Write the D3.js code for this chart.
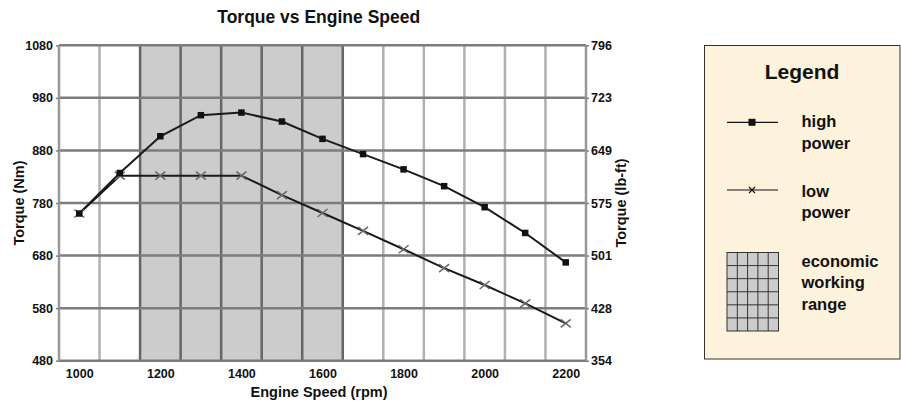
<!DOCTYPE html>
<html>
<head>
<meta charset="utf-8">
<script src="https://cdn.jsdelivr.net/npm/d3@7"></script>
<style>
  html, body { margin: 0; padding: 0; background: #fff; }
  svg { display: block; font-family: "Liberation Sans", Arial, sans-serif; }
</style>
</head>
<body>
<svg id="chart" width="901" height="402"></svg>
<script>
// ---- data ----
const rpm = [1000, 1100, 1200, 1300, 1400, 1500, 1600, 1700, 1800, 1900, 2000, 2100, 2200];
const highPower = [760, 837, 907, 947, 952, 935, 902, 873, 844, 812, 772, 723, 667];
const lowPower = [760, 832, 832, 832, 832, 795, 761, 727, 692, 656, 624, 589, 551];
const xTicks = [1000, 1200, 1400, 1600, 1800, 2000, 2200];
const yTicksNm = [480, 580, 680, 780, 880, 980, 1080];
const yTicksLbft = ["354", "428", "501", "575", "649", "723", "796"];
const xGrid = [1050, 1150, 1250, 1350, 1450, 1550, 1650, 1750, 1850, 1950, 2050, 2150];
const economicRange = [1150, 1650];
const legendItems = ["high power", "low power", "economic working range"];

const svg = d3.select("#chart");
const x = d3.scaleLinear().domain([950, 2250]).range([59, 586]);
const y = d3.scaleLinear().domain([480, 1080]).range([360.7, 45.3]);
const [x0, x1] = x.range();
const [yb, yt] = y.range();

// shaded economic range
svg.append("rect")
  .attr("x", x(economicRange[0])).attr("y", yt)
  .attr("width", x(economicRange[1]) - x(economicRange[0]))
  .attr("height", yb - yt)
  .attr("fill", "#cccccc");

// vertical grid
const g = svg.append("g");
xGrid.forEach(v => {
  const inside = v >= economicRange[0] && v <= economicRange[1];
  g.append("line")
    .attr("x1", x(v)).attr("x2", x(v)).attr("y1", yt).attr("y2", yb)
    .attr("stroke", inside ? "#666" : "#b0b0b0")
    .attr("stroke-width", 2.5);
});
// horizontal grid
yTicksNm.forEach(v => {
  g.append("line")
    .attr("x1", x0).attr("x2", x1).attr("y1", y(v)).attr("y2", y(v))
    .attr("stroke", "#7c7c7c").attr("stroke-width", 2.5);
});
// frame sides
[x0, x1].forEach(px => {
  g.append("line")
    .attr("x1", px).attr("x2", px).attr("y1", yt).attr("y2", yb)
    .attr("stroke", "#999").attr("stroke-width", 2.5);
});

// axes
const axisFont = "12.5px";
const leftAxis = svg.append("g").attr("transform", `translate(${x0},0)`)
  .call(d3.axisLeft(y).tickValues(yTicksNm).tickSize(3).tickPadding(3).tickFormat(d3.format("d")));
const rightAxis = svg.append("g").attr("transform", `translate(${x1},0)`)
  .call(d3.axisRight(y).tickValues(yTicksNm).tickSize(3).tickPadding(2)
    .tickFormat((d, i) => yTicksLbft[i]));
const bottomAxis = svg.append("g").attr("transform", `translate(0,${yb})`)
  .call(d3.axisBottom(x).tickValues(xTicks).tickSize(0).tickPadding(8).tickFormat(d3.format("d")));
[leftAxis, rightAxis, bottomAxis].forEach(a => {
  a.select(".domain").remove();
  a.selectAll(".tick line").attr("stroke", "#808080").attr("stroke-width", 1.5);
  a.selectAll("text").attr("font-size", axisFont).attr("font-weight", "bold")
    .attr("fill", "#111").attr("font-family", "'Liberation Sans', Arial, sans-serif");
});

// lines
const line = d3.line().x((d, i) => x(rpm[i])).y(d => y(d));
svg.append("path").datum(lowPower).attr("d", line)
  .attr("fill", "none").attr("stroke", "#1a1a1a").attr("stroke-width", 2);
svg.append("path").datum(highPower).attr("d", line)
  .attr("fill", "none").attr("stroke", "#1a1a1a").attr("stroke-width", 2);

// low power x markers
const xm = 5;
svg.append("g").selectAll("path").data(lowPower).join("path")
  .attr("d", (d, i) => {
    const cx = x(rpm[i]), cy = y(d);
    return `M${cx - xm},${cy - xm * 0.8}L${cx + xm},${cy + xm * 0.8}M${cx - xm},${cy + xm * 0.8}L${cx + xm},${cy - xm * 0.8}`;
  })
  .attr("stroke", "#666").attr("stroke-width", 1.5).attr("fill", "none");

// high power square markers
const sq = 6.5;
svg.append("g").selectAll("rect").data(highPower).join("rect")
  .attr("x", (d, i) => x(rpm[i]) - sq / 2).attr("y", d => y(d) - sq / 2)
  .attr("width", sq).attr("height", sq).attr("fill", "#111");

// titles
svg.append("text").attr("x", 318.7).attr("y", 23.3).attr("text-anchor", "middle")
  .attr("font-size", "17.5px").attr("font-weight", "bold").attr("fill", "#111")
  .text("Torque vs Engine Speed");
svg.append("text").attr("x", (x0 + x1) / 2 - 3.5).attr("y", 396.5).attr("text-anchor", "middle")
  .attr("font-size", "14.5px").attr("font-weight", "bold").attr("fill", "#111")
  .text("Engine Speed (rpm)");
svg.append("text").attr("transform", `translate(24,203) rotate(-90)`).attr("text-anchor", "middle")
  .attr("font-size", "14.5px").attr("font-weight", "bold").attr("fill", "#111")
  .text("Torque (Nm)");
svg.append("text").attr("transform", `translate(626,203) rotate(-90)`).attr("text-anchor", "middle")
  .attr("font-size", "14.5px").attr("font-weight", "bold").attr("fill", "#111")
  .text("Torque (lb-ft)");

// legend
const lg = svg.append("g");
lg.append("rect").attr("x", 704.5).attr("y", 45.5).attr("width", 195.5).attr("height", 313.5)
  .attr("fill", "#fdf2dc").attr("stroke", "#333").attr("stroke-width", 1);
lg.append("text").attr("x", 802).attr("y", 79.3).attr("text-anchor", "middle")
  .attr("font-size", "21px").attr("font-weight", "bold").attr("fill", "#111").text("Legend");

const symX0 = 727, symX1 = 778, symC = 752;
// high power symbol
lg.append("line").attr("x1", symX0).attr("x2", symX1).attr("y1", 122.3).attr("y2", 122.3)
  .attr("stroke", "#111").attr("stroke-width", 1.2);
lg.append("rect").attr("x", symC - 3.5).attr("y", 122.3 - 3.5).attr("width", 7).attr("height", 7).attr("fill", "#111");
// low power symbol
lg.append("line").attr("x1", symX0).attr("x2", symX1).attr("y1", 190).attr("y2", 190)
  .attr("stroke", "#111").attr("stroke-width", 1.2);
lg.append("path").attr("d", `M${symC - 3},${187}L${symC + 3},${193}M${symC - 3},${193}L${symC + 3},${187}`)
  .attr("stroke", "#111").attr("stroke-width", 1.2);
// grid swatch
const gx0 = 727, gy0 = 252.5, gw = 51.5, gh = 78.5, cols = 5, rows = 6;
lg.append("rect").attr("x", gx0).attr("y", gy0).attr("width", gw).attr("height", gh)
  .attr("fill", "#cccccc").attr("stroke", "#333").attr("stroke-width", 1);
d3.range(1, cols).forEach(c => {
  lg.append("line").attr("x1", gx0 + c * gw / cols).attr("x2", gx0 + c * gw / cols)
    .attr("y1", gy0).attr("y2", gy0 + gh).attr("stroke", "#333").attr("stroke-width", 1);
});
d3.range(1, rows).forEach(r => {
  lg.append("line").attr("x1", gx0).attr("x2", gx0 + gw)
    .attr("y1", gy0 + r * gh / rows).attr("y2", gy0 + r * gh / rows).attr("stroke", "#333").attr("stroke-width", 1);
});

// legend labels
const labelLines = [
  { words: legendItems[0].split(" "), y: 127.3 },
  { words: legendItems[1].split(" "), y: 196.7 },
  { words: ["economic", "working", "range"], y: 266.5 }
];
labelLines.forEach(item => {
  const t = lg.append("text").attr("x", 801.5).attr("y", item.y)
    .attr("font-size", "16.5px").attr("font-weight", "bold").attr("fill", "#111");
  item.words.forEach((w, i) => {
    t.append("tspan").attr("x", 801.5).attr("dy", i === 0 ? 0 : 21.5).text(w);
  });
});
</script>
</body>
</html>
